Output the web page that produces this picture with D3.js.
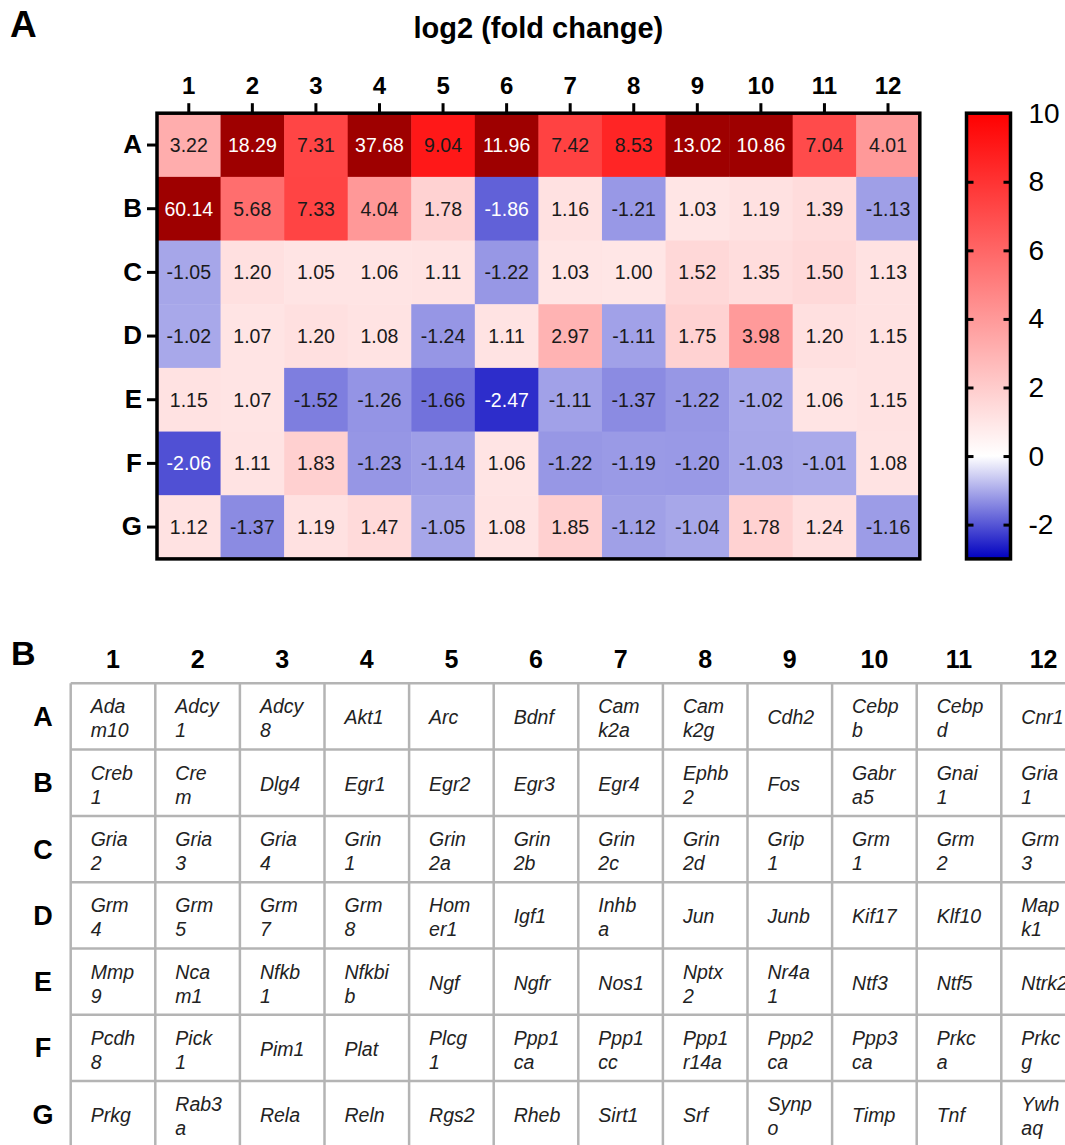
<!DOCTYPE html>
<html>
<head>
<meta charset="utf-8">
<script src="https://cdn.jsdelivr.net/npm/d3@7"></script>
<style>
  body { margin: 0; background: white; }
  text { font-family: 'Liberation Sans', Arial, sans-serif; }
</style>
</head>
<body>
<svg id="chart" width="1065" height="1145"></svg>
<script>
// ************************************************************************************** //
// Data

var rowNames = ['A', 'B', 'C', 'D', 'E', 'F', 'G'];
var colNames = ['1', '2', '3', '4', '5', '6', '7', '8', '9', '10', '11', '12'];

var rowA = [3.22, 18.29, 7.31, 37.68, 9.04, 11.96, 7.42, 8.53, 13.02, 10.86, 7.04, 4.01];
var rowB = [60.14, 5.68, 7.33, 4.04, 1.78, -1.86, 1.16, -1.21, 1.03, 1.19, 1.39, -1.13];
var rowC = [-1.05, 1.20, 1.05, 1.06, 1.11, -1.22, 1.03, 1.00, 1.52, 1.35, 1.50, 1.13];
var rowD = [-1.02, 1.07, 1.20, 1.08, -1.24, 1.11, 2.97, -1.11, 1.75, 3.98, 1.20, 1.15];
var rowE = [1.15, 1.07, -1.52, -1.26, -1.66, -2.47, -1.11, -1.37, -1.22, -1.02, 1.06, 1.15];
var rowF = [-2.06, 1.11, 1.83, -1.23, -1.14, 1.06, -1.22, -1.19, -1.20, -1.03, -1.01, 1.08];
var rowG = [1.12, -1.37, 1.19, 1.47, -1.05, 1.08, 1.85, -1.12, -1.04, 1.78, 1.24, -1.16];
var foldValues = [rowA, rowB, rowC, rowD, rowE, rowF, rowG];

var colorTicks = [-2, 0, 2, 4, 6, 8, 10];

// gene names as they wrap in the table ('|' = line break)
var genesA = ['Ada|m10', 'Adcy|1', 'Adcy|8', 'Akt1', 'Arc', 'Bdnf', 'Cam|k2a', 'Cam|k2g', 'Cdh2', 'Cebp|b', 'Cebp|d', 'Cnr1'];
var genesB = ['Creb|1', 'Cre|m', 'Dlg4', 'Egr1', 'Egr2', 'Egr3', 'Egr4', 'Ephb|2', 'Fos', 'Gabr|a5', 'Gnai|1', 'Gria|1'];
var genesC = ['Gria|2', 'Gria|3', 'Gria|4', 'Grin|1', 'Grin|2a', 'Grin|2b', 'Grin|2c', 'Grin|2d', 'Grip|1', 'Grm|1', 'Grm|2', 'Grm|3'];
var genesD = ['Grm|4', 'Grm|5', 'Grm|7', 'Grm|8', 'Hom|er1', 'Igf1', 'Inhb|a', 'Jun', 'Junb', 'Kif17', 'Klf10', 'Map|k1'];
var genesE = ['Mmp|9', 'Nca|m1', 'Nfkb|1', 'Nfkbi|b', 'Ngf', 'Ngfr', 'Nos1', 'Nptx|2', 'Nr4a|1', 'Ntf3', 'Ntf5', 'Ntrk2'];
var genesF = ['Pcdh|8', 'Pick|1', 'Pim1', 'Plat', 'Plcg|1', 'Ppp1|ca', 'Ppp1|cc', 'Ppp1|r14a', 'Ppp2|ca', 'Ppp3|ca', 'Prkc|a', 'Prkc|g'];
var genesG = ['Prkg', 'Rab3|a', 'Rela', 'Reln', 'Rgs2', 'Rheb', 'Sirt1', 'Srf', 'Synp|o', 'Timp', 'Tnf', 'Ywh|aq'];
var geneNames = [genesA, genesB, genesC, genesD, genesE, genesF, genesG];

// ************************************************************************************** //

var svg = d3.select('#chart');
// plain hyphen for negatives, like the original figure
var locale = d3.formatLocale({ decimal: '.', thousands: ',', grouping: [3], currency: ['', ''], minus: '-' });
var fmt = locale.format('.2f');
var fmtTick = locale.format('d');

// Panel A -------------------------------------------------------------------------------
svg.append('text').attr('x', 10).attr('y', 37).style('font-size', '37px').style('font-weight', 'bold').text('A');

var hm = { left: 157, top: 113.2, width: 762.8, height: 445.7 };
var x = d3.scaleBand().domain(colNames).range([hm.left, hm.left + hm.width]);
var y = d3.scaleBand().domain(rowNames).range([hm.top, hm.top + hm.height]);

var color = d3.scaleLinear().domain([-3, 0, 10]).range(['#0000c0', '#ffffff', '#ff0000']).clamp(true);
function cellColor(v){ return v > 10 ? '#9e0000' : color(v); }
function textColor(v){ return (v > 10 || v < -1.8) ? '#ffffff' : '#1a1a1a'; }

svg.append('text').attr('x', hm.left + hm.width/2).attr('y', 38).attr('text-anchor', 'middle')
  .style('font-size', '29px').style('font-weight', 'bold').text('log2 (fold change)');

var cells = [];
foldValues.forEach(function(row, i){
  row.forEach(function(v, j){ cells.push({ r: rowNames[i], c: colNames[j], v: v }); });
});

var cellG = svg.append('g');
cellG.selectAll('rect').data(cells).enter().append('rect')
  .attr('x', function(d){ return x(d.c); }).attr('y', function(d){ return y(d.r); })
  .attr('width', x.bandwidth() + 0.5).attr('height', y.bandwidth() + 0.5)
  .style('fill', function(d){ return cellColor(d.v); });

cellG.selectAll('text').data(cells).enter().append('text')
  .attr('x', function(d){ return x(d.c) + x.bandwidth()/2; })
  .attr('y', function(d){ return y(d.r) + y.bandwidth()/2; })
  .attr('dy', '0.36em').attr('text-anchor', 'middle')
  .style('font-size', '19.5px').style('fill', function(d){ return textColor(d.v); })
  .text(function(d){ return fmt(d.v); });

// frame
svg.append('rect').attr('x', hm.left).attr('y', hm.top).attr('width', hm.width).attr('height', hm.height)
  .style('fill', 'none').style('stroke', 'black').style('stroke-width', 3.5);

// axes
var xAxis = svg.append('g').attr('transform', 'translate(0,' + hm.top + ')')
  .call(d3.axisTop(x).tickSize(10).tickPadding(9));
var yAxis = svg.append('g').attr('transform', 'translate(' + hm.left + ',0)')
  .call(d3.axisLeft(y).tickSize(10).tickPadding(5));
[xAxis, yAxis].forEach(function(ax){
  ax.select('.domain').remove();
  ax.selectAll('line').style('stroke', 'black').style('stroke-width', 3);
  ax.selectAll('text').style('font-family', "'Liberation Sans', Arial, sans-serif").style('font-weight', 'bold').style('fill', 'black');
});
xAxis.selectAll('text').style('font-size', '24px');
yAxis.selectAll('text').style('font-size', '26px');

// Color bar -----------------------------------------------------------------------------
var cb = { left: 966.5, width: 44 };
var cbScale = d3.scaleLinear().domain([-3, 10]).range([hm.top + hm.height, hm.top]);

var grad = svg.append('defs').append('linearGradient').attr('id', 'cbGrad')
  .attr('x1', 0).attr('y1', 1).attr('x2', 0).attr('y2', 0);
color.domain().forEach(function(v){
  grad.append('stop').attr('offset', (v + 3)/13).attr('stop-color', color(v));
});

svg.append('rect').attr('x', cb.left).attr('y', hm.top).attr('width', cb.width).attr('height', hm.height)
  .style('fill', 'url(#cbGrad)').style('stroke', 'black').style('stroke-width', 3.5);

var cbLeftAx = svg.append('g').attr('transform', 'translate(' + cb.left + ',0)')
  .call(d3.axisRight(cbScale).tickValues(colorTicks.slice(0, -1)).tickSize(7).tickFormat(''));
var cbRightAx = svg.append('g').attr('transform', 'translate(' + (cb.left + cb.width) + ',0)')
  .call(d3.axisRight(cbScale).tickValues(colorTicks).tickSize(-7).tickPadding(18).tickFormat(fmtTick));
[cbLeftAx, cbRightAx].forEach(function(ax){
  ax.select('.domain').remove();
  ax.selectAll('line').style('stroke', 'black').style('stroke-width', 3);
});
cbRightAx.selectAll('line').filter(function(d){ return d == 10; }).remove();
cbRightAx.selectAll('text').style('font-family', "'Liberation Sans', Arial, sans-serif")
  .style('font-size', '28px').style('fill', 'black');

// Panel B -------------------------------------------------------------------------------
svg.append('text').attr('x', 11).attr('y', 665).style('font-size', '34px').style('font-weight', 'bold').text('B');

var tb = { left: 70.7, top: 683.3, colW: 84.6, rowH: 66.3 };
var tx = d3.scaleBand().domain(colNames).range([tb.left, tb.left + 12*tb.colW]);
var ty = d3.scaleBand().domain(rowNames).range([tb.top, tb.top + 7*tb.rowH]);

svg.append('g').selectAll('text').data(colNames).enter().append('text')
  .attr('x', function(d){ return tx(d) + tx.bandwidth()/2; }).attr('y', 668)
  .attr('text-anchor', 'middle').style('font-size', '25px').style('font-weight', 'bold').text(function(d){ return d; });

svg.append('g').selectAll('text').data(rowNames).enter().append('text')
  .attr('x', 43).attr('y', function(d){ return ty(d) + ty.bandwidth()/2 + 9.5; })
  .attr('text-anchor', 'middle').style('font-size', '27px').style('font-weight', 'bold').text(function(d){ return d; });

// grid
var gridG = svg.append('g').style('stroke', '#b4b4b4').style('stroke-width', 2.5);
d3.range(13).forEach(function(k){
  var gx = tb.left + k*tb.colW;
  gridG.append('line').attr('x1', gx).attr('x2', gx).attr('y1', tb.top).attr('y2', tb.top + 7*tb.rowH);
});
d3.range(8).forEach(function(k){
  var gy = tb.top + k*tb.rowH;
  gridG.append('line').attr('x1', tb.left).attr('x2', tb.left + 12*tb.colW).attr('y1', gy).attr('y2', gy);
});

// gene names
var geneCells = [];
geneNames.forEach(function(row, i){
  row.forEach(function(g, j){ geneCells.push({ r: rowNames[i], c: colNames[j], lines: g.split('|') }); });
});
var geneText = svg.append('g').selectAll('text').data(geneCells).enter().append('text')
  .attr('x', function(d){ return tx(d.c) + 20; })
  .attr('y', function(d){ return ty(d.r) + ty.bandwidth()/2; })
  .style('font-size', '19.5px').style('font-style', 'italic').style('fill', '#222');
geneText.each(function(d){
  var t = d3.select(this), cy = ty(d.r) + ty.bandwidth()/2;
  if(d.lines.length == 1){
    t.append('tspan').attr('x', tx(d.c) + 20).attr('y', cy + 8).text(d.lines[0]);
  } else {
    t.append('tspan').attr('x', tx(d.c) + 20).attr('y', cy - 3).text(d.lines[0]);
    t.append('tspan').attr('x', tx(d.c) + 20).attr('y', cy + 21).text(d.lines[1]);
  }
});
</script>
</body>
</html>
